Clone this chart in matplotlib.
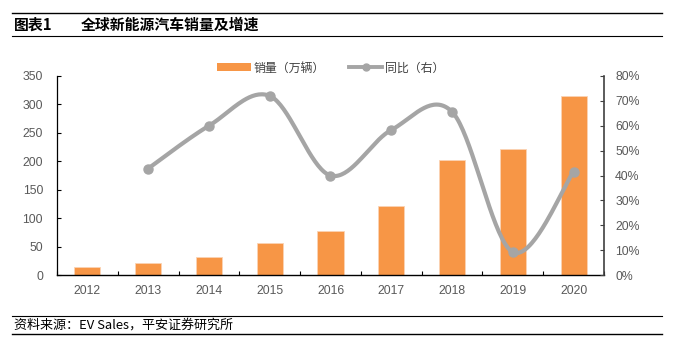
import numpy as np
import matplotlib
matplotlib.use("Agg")
import matplotlib.pyplot as plt
from matplotlib.lines import Line2D
from matplotlib.patches import Patch

years = ["2012", "2013", "2014", "2015", "2016", "2017", "2018", "2019", "2020"]
sales = [14, 21, 32, 56, 78, 122, 203, 221, 314]
growth_years = ["2013", "2014", "2015", "2016", "2017", "2018", "2019", "2020"]
growth = [42.8, 60.0, 72.0, 40.0, 58.3, 65.6, 9.2, 41.6]

left_ticks = [0, 50, 100, 150, 200, 250, 300, 350]
right_ticks = [0, 10, 20, 30, 40, 50, 60, 70, 80]

ORANGE = "#F79646"
GRAY = "#A5A5A5"
TXT = "#595959"
NUMFONT = ["Liberation Sans", "Noto Sans CJK SC"]
CJK = ["Noto Sans CJK SC", "DejaVu Sans"]

W, H = 675, 346
fig = plt.figure(figsize=(W / 100, H / 100), dpi=100)

x0, x1, yb, yt = 57, 604, 275, 76
ax = fig.add_axes([x0 / W, 1 - yb / H, (x1 - x0) / W, (yb - yt) / H])
ax2 = ax.twinx()

x = np.arange(len(years))
ax.bar(x, sales, width=0.43, color=ORANGE, edgecolor="#FBD3B4", linewidth=0.6, zorder=2)
ax.set_xlim(-0.5, len(years) - 0.5)
ax.set_ylim(0, 350)
ax.set_yticks(left_ticks)
ax.set_yticklabels([str(t) for t in left_ticks], family=NUMFONT, fontsize=8.8, color=TXT)
ax.set_xticks(x)
ax.set_xticklabels(years, family=NUMFONT, fontsize=8.8, color=TXT)
ax.tick_params(axis="x", length=0, pad=7)
ax.set_xticks(np.arange(len(years) + 1) - 0.5, minor=True)
ax.tick_params(axis="x", which="minor", direction="in", length=3, width=0.8, color="black")
ax.tick_params(axis="y", direction="in", length=3, width=0.8, pad=10, color="black")

ax.spines["top"].set_visible(False)
ax.spines["right"].set_visible(False)
ax2.spines["top"].set_visible(False)
ax.spines["left"].set_linewidth(0.9)
ax.spines["bottom"].set_linewidth(1.0)
ax2.spines["left"].set_visible(False)
ax2.spines["bottom"].set_visible(False)
ax2.spines["right"].set_color("#404040")
ax2.spines["right"].set_linewidth(1.2)

ax2.set_ylim(0, 80)
ax2.set_yticks(right_ticks)
ax2.set_yticklabels([f"{t}%" for t in right_ticks], family=NUMFONT, fontsize=8.8, color=TXT)
ax2.tick_params(axis="y", direction="in", length=3, width=0.8, pad=8, color="#404040")

# smoothed line (Catmull-Rom in screen proportions, like Excel smoothing)
gx = np.array([years.index(y) for y in growth_years], dtype=float)
gy = np.array(growth, dtype=float)
sx = (x1 - x0) / len(years)     # px per category
sy = (yb - yt) / 80.0           # px per percent
P = np.column_stack([gx * sx, gy * sy])
pts = []
n = len(P)
for i in range(n - 1):
    p0 = P[i - 1] if i > 0 else P[i]
    p1 = P[i]
    p2 = P[i + 1]
    p3 = P[i + 2] if i + 2 < n else P[i + 1]
    c1 = p1 + (p2 - p0) / 6.0
    c2 = p2 - (p3 - p1) / 6.0
    t = np.linspace(0, 1, 40)[:, None]
    seg = (1 - t) ** 3 * p1 + 3 * (1 - t) ** 2 * t * c1 + 3 * (1 - t) * t ** 2 * c2 + t ** 3 * p2
    pts.append(seg if i == 0 else seg[1:])
pts = np.vstack(pts)
ax2.plot(pts[:, 0] / sx, pts[:, 1] / sy, color=GRAY, linewidth=3.0, solid_capstyle="round", zorder=3)
ax2.plot(gx, gy, linestyle="none", marker="o", markersize=6.5, color=GRAY, zorder=4)

handles = [Patch(facecolor=ORANGE, edgecolor="none"),
           Line2D([0], [0], color=GRAY, linewidth=2.8, marker="o", markersize=5)]
fig.legend(handles, ["销量（万辆）", "同比（右）"], loc="center", ncol=2,
           bbox_to_anchor=(331 / W, 1 - 68 / H), frameon=False,
           prop={"family": CJK, "size": 8.6}, handlelength=2.8, handleheight=0.6,
           columnspacing=2.0, handletextpad=0.25, labelcolor="#404040")

# header and footer
for yy in [13, 36, 316, 334]:
    fig.add_artist(Line2D([12 / W, 662 / W], [1 - yy / H, 1 - yy / H], color="black",
                          linewidth=1.0 if yy in (13, 334) else 0.8))
fig.text(14 / W, 1 - 25 / H, "图表1", family=CJK, fontsize=10.7, fontweight="bold",
         va="center", ha="left", color="black")
fig.text(81 / W, 1 - 25 / H, "全球新能源汽车销量及增速", family=CJK, fontsize=10.7,
         fontweight="bold", va="center", ha="left", color="black")
fig.text(14 / W, 1 - 325 / H, "资料来源：EV Sales，平安证券研究所", family=CJK, fontsize=9.4,
         style="italic", va="center", ha="left", color="black")

fig.savefig("out.png", dpi=100)
